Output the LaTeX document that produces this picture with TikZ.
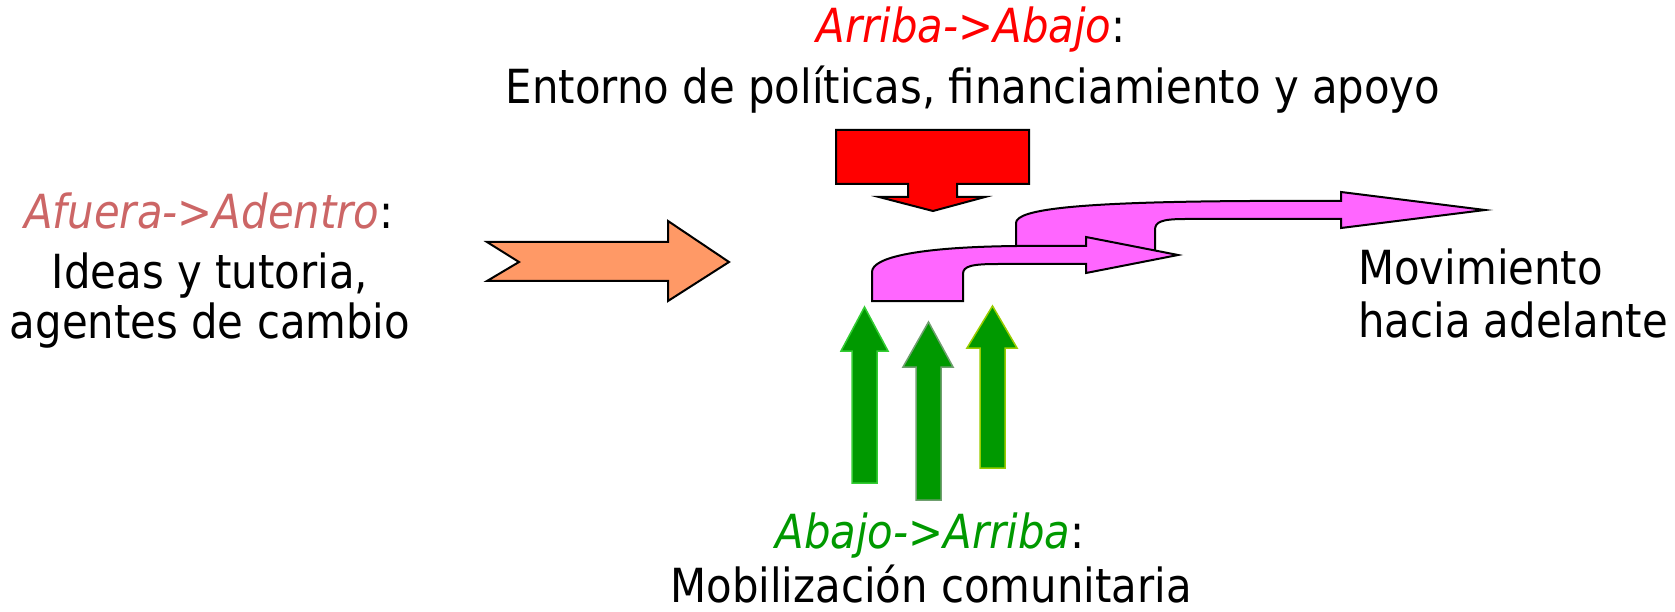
\documentclass[tikz,border=0pt]{standalone}
\usepackage{fontspec}
\setmainfont{DejaVu Sans}[FakeStretch=0.89]
\usepackage{xcolor}
\usepackage{tikz}
\usetikzlibrary{
    calc              % For coordinate calculations
}
\definecolor{OutsideRose}{HTML}{CC6666}
\definecolor{TopRed}{HTML}{FF0000}
\definecolor{BottomGreen}{HTML}{009900}
\definecolor{MoveMagenta}{HTML}{FF66FF}
\definecolor{IdeaOrange}{HTML}{FF9966}
\definecolor{EdgeLime}{HTML}{33CC33}
\definecolor{EdgeSage}{HTML}{6F9F6F}
\definecolor{EdgeOlive}{HTML}{99CC00}
\tikzset{
    % Outlined block arrows
    block_arrow/.style={
        draw=black, line width=2pt, line join=miter
    },
    % Green arrows pushing up from the community
    up_arrow/.style={
        fill=BottomGreen, line width=1.5pt, line join=miter
    },
    % Plain text lines
    line_text/.style={
        inner sep=0pt, anchor=base, font=\fontsize{47}{50}\selectfont
    }
}

\begin{document}
\begin{tikzpicture}[x=1pt, y=-1pt]

\useasboundingbox (0,0) rectangle (1675,612);

% --- BLOCK ARROWS ---

% Outside -> in
\draw[block_arrow, fill=IdeaOrange] (487,242) -- (668,242) -- (668,221) -- (729,262)
    -- (668,301) -- (668,281) -- (487,281) -- (519,262) -- cycle;

% Top -> down
\draw[block_arrow, fill=TopRed] (836,130) -- (1029,130) -- (1029,184) -- (957,184)
    -- (957,197) -- (985,197) -- (933,211) -- (879,197) -- (908,197) -- (908,184)
    -- (836,184) -- cycle;

% Moving forward, upper step (drawn first, partly hidden)
\draw[block_arrow, fill=MoveMagenta] (1016,252) -- (1016,223)
    .. controls (1016,209) and (1080,202) .. (1250,201) -- (1341,201) -- (1341,192)
    -- (1485,210) -- (1341,228) -- (1341,219) -- (1185,219)
    .. controls (1161,219) and (1155,222) .. (1155,230) -- (1155,255) -- cycle;

% Moving forward, lower step
\draw[block_arrow, fill=MoveMagenta] (872,301) -- (872,272)
    .. controls (872,257) and (920,247) .. (1017,246) -- (1086,246) -- (1086,237)
    -- (1178,255) -- (1086,273) -- (1086,264) -- (998,264)
    .. controls (972,264) and (963,266) .. (963,274) -- (963,301) -- cycle;

% Bottom -> up
\draw[up_arrow, draw=EdgeLime] (852,483) -- (852,351) -- (841,351)
    -- (864.5,307) -- (888,351) -- (877,351) -- (877,483) -- cycle;
\draw[up_arrow, draw=EdgeSage] (916,500) -- (916,367) -- (903,367)
    -- (928.5,322) -- (953,367) -- (941,367) -- (941,500) -- cycle;
\draw[up_arrow, draw=EdgeOlive] (980,468) -- (980,348) -- (967,348)
    -- (992.5,306) -- (1017,348) -- (1005,348) -- (1005,468) -- cycle;

% --- TEXT ---

\node[line_text] (outside_key) at (209,229) {\textcolor{OutsideRose}{\textit{Afuera->Adentro}}:};
\node[line_text] (outside_one) at (210,288) {Ideas y tutoria,};
\node[line_text] (outside_two) at (210,338) {agentes de cambio};

\node[line_text] (top_key) at (971,43) {\textcolor{TopRed}{\textit{Arriba->Abajo}}:};
\node[line_text] (top_one) at (973,104) {Entorno de políticas, financiamiento y apoyo};

\node[line_text, anchor=base west] (move_one) at (1358,284) {Movimiento};
\node[line_text, anchor=base west] (move_two) at (1358,337) {hacia adelante};

\node[line_text] (bottom_key) at (930,548) {\textcolor{BottomGreen}{\textit{Abajo->Arriba}}:};
\node[line_text] (bottom_one) at (931,602) {Mobilización comunitaria};

\end{tikzpicture}
\end{document}
